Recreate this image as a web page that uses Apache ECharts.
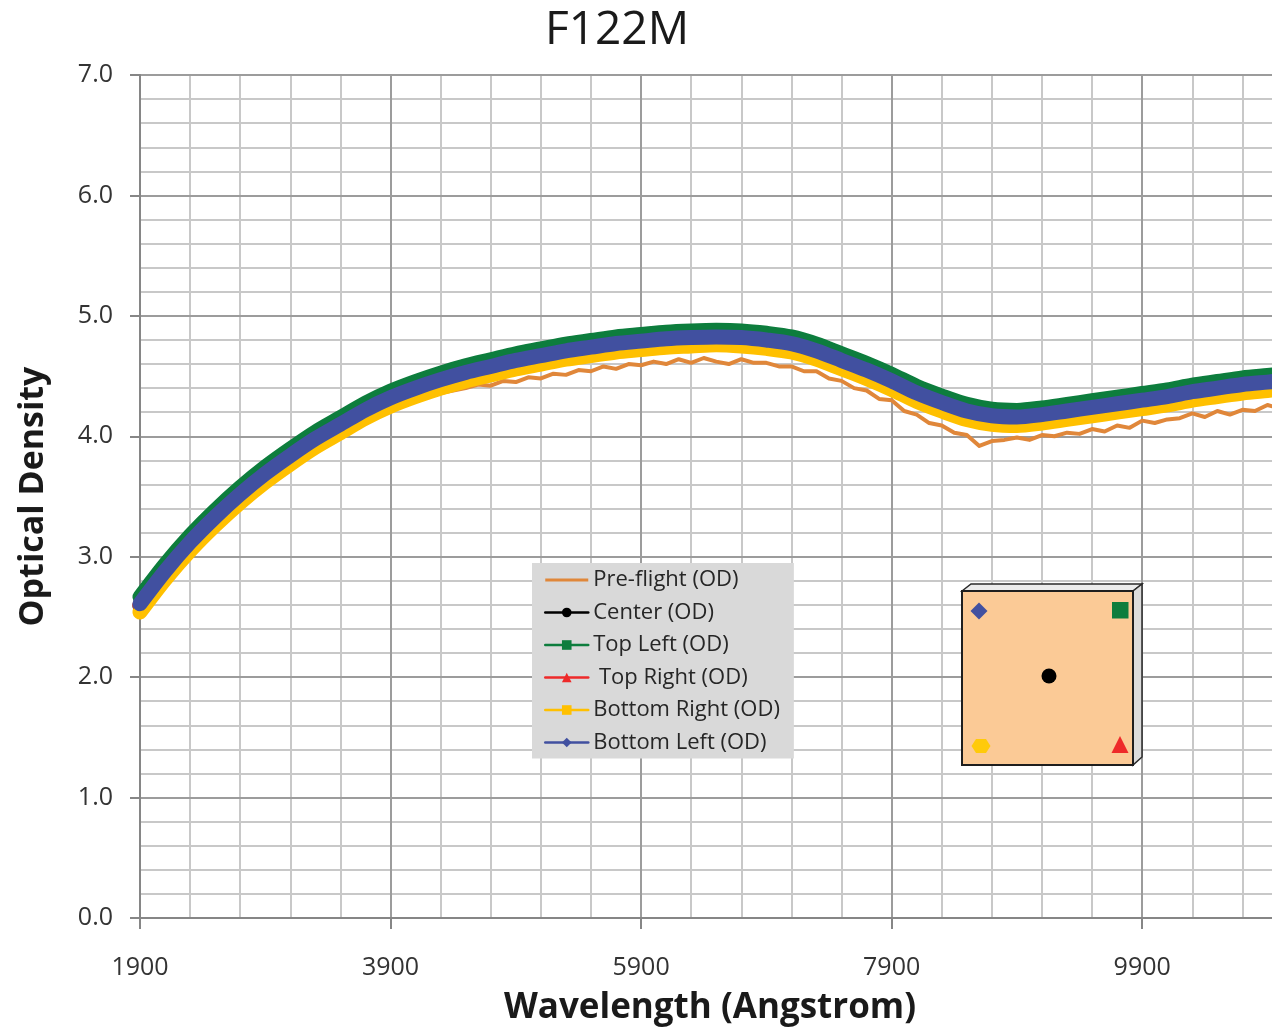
<!DOCTYPE html>
<html>
<head>
<meta charset="utf-8">
<title>F122M</title>
<script src="https://cdn.jsdelivr.net/npm/echarts@6/dist/echarts.min.js"></script>
<style>
  html, body { margin: 0; padding: 0; background: #ffffff; }
  #chart { width: 1272px; height: 1029px; }
</style>
</head>
<body>
<div id="chart"></div>
<script>
// Wavelength samples (Angstrom) for the five filter-position curves
const bandWavelengths = [
  1900, 2100, 2300, 2500, 2700, 2900, 3100, 3300, 3500, 3700,
  3900, 4100, 4300, 4500, 4700, 4900, 5100, 5300, 5500, 5700,
  5900, 6100, 6300, 6500, 6700, 6900, 7100, 7300, 7500, 7700,
  7900, 8100, 8300, 8500, 8700, 8900, 9100, 9300, 9500, 9700,
  9900, 10100, 10300, 10500, 10700, 10900, 11000
];

// Optical density per filter position
const centerOD = [
  2.59, 2.86, 3.10, 3.31, 3.50, 3.67, 3.82, 3.96, 4.08, 4.20,
  4.30, 4.38, 4.45, 4.51, 4.56, 4.61, 4.65, 4.69, 4.72, 4.75,
  4.77, 4.79, 4.80, 4.81, 4.80, 4.78, 4.75, 4.69, 4.61, 4.53,
  4.44, 4.34, 4.26, 4.19, 4.15, 4.14, 4.16, 4.19, 4.22, 4.25,
  4.28, 4.31, 4.35, 4.38, 4.41, 4.43, 4.44
];
const topLeftOD = [
  2.665, 2.935, 3.175, 3.385, 3.575, 3.745, 3.895, 4.035, 4.155, 4.275,
  4.375, 4.455, 4.525, 4.585, 4.635, 4.685, 4.725, 4.765, 4.795, 4.825,
  4.845, 4.865, 4.875, 4.88, 4.875, 4.855, 4.825, 4.765, 4.685, 4.605,
  4.515, 4.415, 4.335, 4.265, 4.225, 4.215, 4.235, 4.265, 4.295, 4.325,
  4.355, 4.385, 4.425, 4.455, 4.485, 4.505, 4.515
];
const topRightOD = [
  2.60, 2.87, 3.11, 3.32, 3.51, 3.68, 3.83, 3.97, 4.09, 4.21,
  4.31, 4.39, 4.46, 4.52, 4.57, 4.62, 4.66, 4.70, 4.73, 4.76,
  4.78, 4.80, 4.81, 4.815, 4.81, 4.79, 4.76, 4.70, 4.62, 4.54,
  4.45, 4.35, 4.27, 4.20, 4.16, 4.15, 4.17, 4.20, 4.23, 4.26,
  4.29, 4.32, 4.36, 4.39, 4.42, 4.44, 4.45
];
const bottomRightOD = [
  2.54, 2.81, 3.05, 3.26, 3.45, 3.62, 3.77, 3.91, 4.03, 4.15,
  4.25, 4.33, 4.40, 4.46, 4.51, 4.56, 4.60, 4.64, 4.67, 4.70,
  4.72, 4.74, 4.75, 4.76, 4.75, 4.73, 4.70, 4.64, 4.56, 4.48,
  4.39, 4.29, 4.21, 4.14, 4.10, 4.09, 4.11, 4.14, 4.17, 4.20,
  4.23, 4.26, 4.30, 4.33, 4.36, 4.38, 4.39
];
const bottomLeftOD = [
  2.61, 2.88, 3.12, 3.33, 3.52, 3.69, 3.84, 3.98, 4.10, 4.22,
  4.32, 4.40, 4.47, 4.53, 4.58, 4.63, 4.67, 4.71, 4.74, 4.77,
  4.79, 4.81, 4.82, 4.825, 4.82, 4.80, 4.77, 4.71, 4.63, 4.55,
  4.46, 4.36, 4.28, 4.21, 4.17, 4.16, 4.18, 4.21, 4.24, 4.27,
  4.30, 4.33, 4.37, 4.40, 4.43, 4.45, 4.46
];

// Pre-flight measurement (finer sampling, noisier)
const preflightWavelengths = [
  1900, 2000, 2100, 2200, 2300, 2400, 2500, 2600, 2700, 2800,
  2900, 3000, 3100, 3200, 3300, 3400, 3500, 3600, 3700, 3800,
  3900, 4000, 4100, 4200, 4300, 4400, 4500, 4600, 4700, 4800,
  4900, 5000, 5100, 5200, 5300, 5400, 5500, 5600, 5700, 5800,
  5900, 6000, 6100, 6200, 6300, 6400, 6500, 6600, 6700, 6800,
  6900, 7000, 7100, 7200, 7300, 7400, 7500, 7600, 7700, 7800,
  7900, 8000, 8100, 8200, 8300, 8400, 8500, 8600, 8700, 8800,
  8900, 9000, 9100, 9200, 9300, 9400, 9500, 9600, 9700, 9800,
  9900, 10000, 10100, 10200, 10300, 10400, 10500, 10600, 10700, 10800,
  10900, 11000
];
const preflightOD = [
  2.50, 2.66, 2.79, 2.91, 3.03, 3.14, 3.24, 3.34, 3.43, 3.52,
  3.60, 3.68, 3.75, 3.82, 3.89, 3.95, 4.01, 4.07, 4.13, 4.18,
  4.23, 4.27, 4.30, 4.33, 4.36, 4.38, 4.40, 4.43, 4.42, 4.46,
  4.45, 4.49, 4.48, 4.52, 4.51, 4.55, 4.54, 4.58, 4.56, 4.60,
  4.59, 4.62, 4.60, 4.64, 4.61, 4.65, 4.62, 4.60, 4.64, 4.61,
  4.61, 4.58, 4.58, 4.54, 4.54, 4.48, 4.46, 4.40, 4.38, 4.31,
  4.30, 4.21, 4.18, 4.11, 4.09, 4.03, 4.01, 3.92, 3.96, 3.97,
  3.99, 3.97, 4.01, 4.00, 4.03, 4.02, 4.06, 4.04, 4.09, 4.07,
  4.13, 4.11, 4.14, 4.15, 4.19, 4.16, 4.21, 4.18, 4.22, 4.21,
  4.26, 4.23
];

// Axis tick labels
const xTickLabels = [1900, 3900, 5900, 7900, 9900];
const yTickLabels = ['0.0', '1.0', '2.0', '3.0', '4.0', '5.0', '6.0', '7.0'];

const FONT = '"Open Sans", "Noto Sans", sans-serif';
const COLORS = {
  preflight: '#e0873a',
  center: '#000000',
  topLeft: '#0d7d3d',
  topRight: '#ee2a2a',
  bottomRight: '#ffc000',
  bottomLeft: '#4150a0'
};

function pairs(xs, ys) {
  return xs.map(function (x, i) { return [x, ys[i]]; });
}

function bandSeries(name, color, values, symbol) {
  return {
    name: name,
    type: 'line',
    xAxisIndex: 0,
    yAxisIndex: 0,
    data: pairs(bandWavelengths, values),
    symbol: symbol,
    showSymbol: false,
    smooth: 0.3,
    clip: true,
    silent: true,
    itemStyle: { color: color },
    lineStyle: { color: color, width: 15, cap: 'round', join: 'round' }
  };
}

// Small sketch of the filter face marking the five measured positions
const SKETCH_Z = 100;
const filterSketch = [
  {
    type: 'polygon', z: SKETCH_Z,
    shape: { points: [[962, 591], [971, 584], [1142, 584], [1133, 591]] },
    style: { fill: '#ececec', stroke: '#2a2a2a', lineWidth: 1.5 }
  },
  {
    type: 'polygon', z: SKETCH_Z,
    shape: { points: [[1133, 591], [1142, 584], [1142, 757], [1133, 765]] },
    style: { fill: '#dcdcdc', stroke: '#2a2a2a', lineWidth: 1.5 }
  },
  {
    type: 'rect', z: SKETCH_Z,
    shape: { x: 962, y: 591, width: 171, height: 174 },
    style: { fill: '#fbca96', stroke: '#1e1e1e', lineWidth: 2 }
  },
  {
    type: 'polygon', z: SKETCH_Z + 1,
    shape: { points: [[979, 602.5], [987.5, 611], [979, 619.5], [970.5, 611]] },
    style: { fill: COLORS.bottomLeft }
  },
  {
    type: 'rect', z: SKETCH_Z + 1,
    shape: { x: 1112, y: 602, width: 16.5, height: 16.5 },
    style: { fill: COLORS.topLeft }
  },
  {
    type: 'circle', z: SKETCH_Z + 1,
    shape: { cx: 1049, cy: 676, r: 7.5 },
    style: { fill: '#000000' }
  },
  {
    type: 'polygon', z: SKETCH_Z + 1,
    shape: { points: [[971.5, 746], [976, 739], [986, 739], [990.5, 746], [986, 753], [976, 753]] },
    style: { fill: '#ffca0a' }
  },
  {
    type: 'polygon', z: SKETCH_Z + 1,
    shape: { points: [[1120, 736], [1128.5, 753], [1111.5, 753]] },
    style: { fill: COLORS.topRight }
  }
];

const chart = echarts.init(document.getElementById('chart'), null, { renderer: 'canvas' });

chart.setOption({
  animation: false,
  backgroundColor: '#ffffff',
  title: {
    text: 'F122M',
    left: 545,
    top: 8,
    padding: 0,
    textStyle: { fontFamily: FONT, fontSize: 46, fontWeight: 'normal', color: '#1a1a1a' }
  },
  grid: { left: 140, top: 75, right: -8, bottom: 111, containLabel: false, outerBoundsMode: 'none' },
  xAxis: [
    {
      type: 'value',
      min: 1900,
      max: 11000,
      interval: 2000,
      z: 1,
      name: 'Wavelength (Angstrom)',
      nameLocation: 'middle',
      nameGap: 73,
      nameTextStyle: { fontFamily: FONT, fontSize: 35, fontWeight: 'bold', color: '#1a1a1a' },
      axisLine: { show: true, onZero: false, lineStyle: { color: '#868686', width: 2 } },
      axisTick: { show: true, length: 11, lineStyle: { color: '#868686', width: 2 } },
      axisLabel: {
        margin: 37,
        fontFamily: FONT,
        fontSize: 25,
        color: '#333333',
        showMaxLabel: false,
        formatter: function (v) { return xTickLabels.indexOf(v) >= 0 ? String(v) : ''; }
      },
      splitLine: { show: true, lineStyle: { color: '#9c9c9c', width: 2 } }
    },
    {
      // finer 400 Å grid
      type: 'value',
      min: 1900,
      max: 11000,
      interval: 400,
      position: 'bottom',
      z: 0,
      axisLine: { show: false },
      axisTick: { show: false },
      axisLabel: { show: false },
      splitLine: { show: true, lineStyle: { color: '#c8c8c8', width: 2 } }
    }
  ],
  yAxis: [
    {
      type: 'value',
      min: 0,
      max: 7,
      interval: 1,
      z: 1,
      name: 'Optical Density',
      nameLocation: 'middle',
      nameGap: 90,
      nameTextStyle: { fontFamily: FONT, fontSize: 34, fontWeight: 'bold', color: '#1a1a1a' },
      axisLine: { show: true, onZero: false, lineStyle: { color: '#868686', width: 2 } },
      axisTick: { show: true, length: 10, lineStyle: { color: '#868686', width: 2 } },
      axisLabel: {
        margin: 27,
        fontFamily: FONT,
        fontSize: 25,
        color: '#333333',
        formatter: function (v) { return yTickLabels[Math.round(v)]; }
      },
      splitLine: { show: true, lineStyle: { color: '#9c9c9c', width: 2 } },
      minorTick: { show: false, splitNumber: 5 },
      minorSplitLine: { show: true, lineStyle: { color: '#c8c8c8', width: 2 } }
    }
  ],
  legend: {
    orient: 'vertical',
    left: 532,
    top: 563,
    padding: [5, 14, 4, 12],
    itemGap: 8.5,
    itemWidth: 43,
    itemHeight: 12,
    backgroundColor: '#d9d9d9',
    selectedMode: false,
    lineStyle: { width: 2.5 },
    textStyle: { fontFamily: FONT, fontSize: 22, color: '#262626', lineHeight: 24 },
    data: [
      { name: 'Pre-flight (OD)', icon: 'path://M0,0H40V3H0Z', itemStyle: { color: COLORS.preflight } },
      'Center (OD)',
      'Top Left (OD)',
      ' Top Right (OD)',
      'Bottom Right (OD)',
      'Bottom Left (OD)'
    ]
  },
  graphic: { elements: filterSketch },
  series: [
    {
      name: 'Pre-flight (OD)',
      type: 'line',
      xAxisIndex: 0,
      yAxisIndex: 0,
      data: pairs(preflightWavelengths, preflightOD),
      symbol: 'none',
      showSymbol: false,
      clip: true,
      silent: true,
      itemStyle: { color: COLORS.preflight },
      lineStyle: { color: COLORS.preflight, width: 4, join: 'round' }
    },
    bandSeries('Center (OD)', COLORS.center, centerOD, 'circle'),
    bandSeries('Top Left (OD)', COLORS.topLeft, topLeftOD, 'rect'),
    bandSeries(' Top Right (OD)', COLORS.topRight, topRightOD, 'triangle'),
    bandSeries('Bottom Right (OD)', COLORS.bottomRight, bottomRightOD, 'rect'),
    bandSeries('Bottom Left (OD)', COLORS.bottomLeft, bottomLeftOD, 'diamond')
  ]
});
</script>
</body>
</html>
